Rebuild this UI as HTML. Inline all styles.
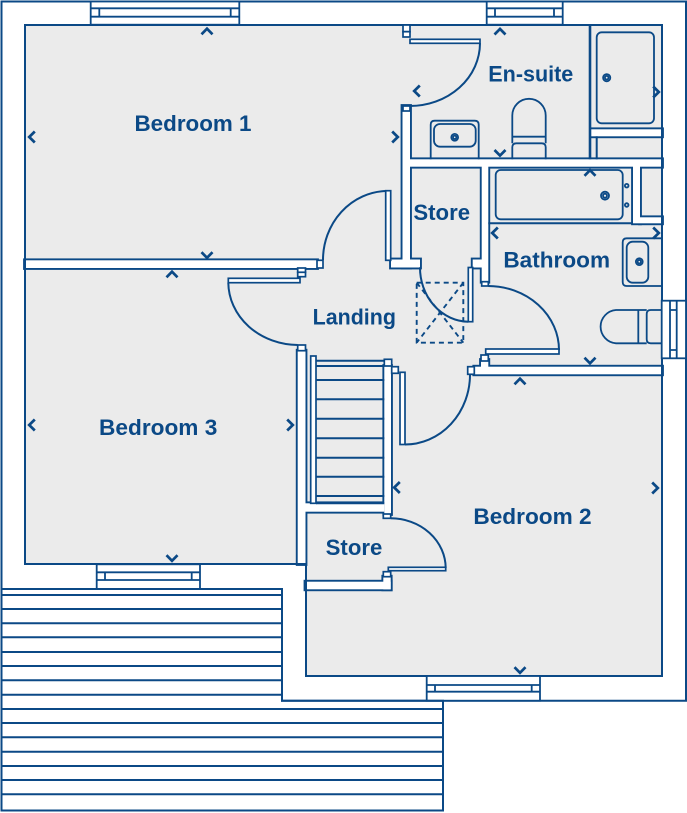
<!DOCTYPE html>
<html><head><meta charset="utf-8"><style>
html,body{margin:0;padding:0;background:#fff;}
svg{display:block;}
text{font-family:"Liberation Sans",sans-serif;font-weight:bold;font-size:22px;fill:#0b4986;text-anchor:middle;}
</style></head><body>
<svg width="687" height="813" viewBox="0 0 687 813" xmlns="http://www.w3.org/2000/svg">
<defs>
<g id="walls">
 <rect x="25" y="260.3" width="292" height="7.7"/>
 <rect x="402.5" y="106" width="7.5" height="161.5"/>
 <rect x="391" y="259.5" width="29" height="8"/>
 <rect x="410" y="159.3" width="252" height="7.4"/>
 <rect x="481.7" y="166" width="6.6" height="115.7"/>
 <rect x="472.7" y="259.5" width="9.3" height="8"/>
 <rect x="591" y="129.3" width="71" height="7"/>
 <rect x="633" y="166" width="7" height="57.3"/>
 <rect x="640" y="217.3" width="22" height="6"/>
 <rect x="474.3" y="366.7" width="187.7" height="7.6"/>
 <rect x="481" y="360" width="7.3" height="7.5"/>
 <rect x="384.3" y="366" width="6.7" height="148"/>
 <rect x="297.7" y="350.7" width="7.8" height="213.3"/>
 <rect x="305.5" y="503.3" width="78.8" height="8.4"/>
 <rect x="383.3" y="576.7" width="7.4" height="12.6"/>
 <rect x="305.5" y="581.7" width="85.2" height="7.6"/>
</g>
</defs>

<polygon points="25,25 662,25 662,676 306,676 306,564 25,564" fill="#ebebeb"/>

<use href="#walls" fill="none" stroke="#0b4986" stroke-width="3.8"/>
<use href="#walls" fill="#fff" stroke="none"/>

<g fill="none" stroke="#0b4986" stroke-width="2">
 <polygon points="25,25 662,25 662,676 306,676 306,564 25,564"/>
 <path d="M1.5,589 V1.5 H686 V700.7 H282 V589"/>
 <path d="M590,25 V159.3" stroke-width="2.6"/>
 <path d="M596.7,159.3 V136.3"/>
 <path d="M488.3,223.3 H633"/>
</g>

<g fill="#fff" stroke="#0b4986" stroke-width="1.7">
 <rect x="317" y="260.3" width="6" height="7.7"/>
 <rect x="297.7" y="268" width="7.8" height="4.3"/>
 <rect x="297.7" y="272.3" width="7.8" height="4.4"/>
 <rect x="297.7" y="345" width="7.8" height="5.7"/>
 <rect x="403" y="25" width="7" height="6.7"/>
 <rect x="403" y="31.7" width="7" height="5.3"/>
 <rect x="403" y="106" width="7" height="5"/>
 <rect x="481.7" y="281.7" width="6.6" height="4.3"/>
 <rect x="481" y="355" width="7.3" height="6"/>
 <rect x="467.7" y="366.7" width="6.6" height="7.6"/>
 <rect x="384.3" y="359.3" width="7.4" height="6.7"/>
 <rect x="391.7" y="366.7" width="6.6" height="6.6"/>
 <rect x="383.3" y="514" width="7.4" height="4.3"/>
 <rect x="383.3" y="571.7" width="7.4" height="5"/>
 <rect x="385.7" y="190.7" width="5" height="69.6"/>
 <rect x="410" y="39.3" width="70" height="4"/>
 <rect x="468.3" y="267.5" width="4.4" height="54.2"/>
 <rect x="485.7" y="349" width="73.3" height="5"/>
 <rect x="228.3" y="278.3" width="71.7" height="4.4"/>
 <rect x="400" y="372.3" width="5" height="72.2"/>
 <rect x="388.3" y="567.3" width="57.4" height="3.4"/>
 <rect x="310.7" y="356" width="5.3" height="147.3"/>
</g>

<g fill="none" stroke="#0b4986" stroke-width="2">
 <path d="M386,191 A65 69 0 0 0 323,260"/>
 <path d="M480,43.3 A70 63 0 0 1 410,106"/>
 <path d="M420,267.3 A49 54 0 0 0 468.3,321.7"/>
 <path d="M488.3,286 A71 64 0 0 1 559,350"/>
 <path d="M228.3,282.7 A70 63 0 0 0 297.7,345"/>
 <path d="M405,444.5 A65 70 0 0 0 470,374.3"/>
 <path d="M390.7,518.3 A55 50 0 0 1 445.7,568"/>
</g>

<g fill="none" stroke="#0b4986" stroke-width="1.9" stroke-dasharray="5 4">
 <rect x="416.7" y="282.7" width="46.6" height="60"/>
 <path d="M416.7,282.7 L463.3,342.7 M463.3,282.7 L416.7,342.7"/>
</g>

<g fill="none" stroke="#0b4986" stroke-width="2">
 <path d="M316,360.7 H384.3 M316,366 H384.3 M316,380 H384.3 M316,399.3 H384.3 M316,418.7 H384.3 M316,438.3 H384.3 M316,457.7 H384.3 M316,476.7 H384.3 M316,496 H384.3 M316,503.3 H384.3"/>
</g>

<g fill="none" stroke="#0b4986" stroke-width="1.8">
 <rect x="596.7" y="32.3" width="57.3" height="91" rx="5"/>
 <circle cx="606.7" cy="77.7" r="3.6"/><circle cx="606.7" cy="77.7" r="1.8"/>
 <path d="M430.7,159.3 V124.7 Q430.7,120.7 434.7,120.7 H474.7 Q478.7,120.7 478.7,124.7 V159.3"/>
 <rect x="434" y="124" width="41.7" height="22.7" rx="6"/>
 <circle cx="454.7" cy="137.3" r="3.4"/><circle cx="454.7" cy="137.3" r="1.7"/>
 <path d="M512.3,143.3 V115.5 A16.7 16.7 0 0 1 545.7,115.5 V143.3 M512.3,136.7 H545.7"/>
 <path d="M512.3,159.3 V147.3 Q512.3,143.3 516.3,143.3 H541.7 Q545.7,143.3 545.7,147.3 V159.3"/>
 <rect x="495.7" y="170" width="127" height="49.3" rx="5"/>
 <circle cx="605" cy="195.7" r="4"/><circle cx="605" cy="195.7" r="2"/>
 <circle cx="626.7" cy="185.7" r="1.8"/><circle cx="626.7" cy="205" r="1.8"/>
 <path d="M662,238.3 H626.7 Q622.7,238.3 622.7,242.3 V282 Q622.7,286 626.7,286 H662"/>
 <rect x="626.7" y="241.7" width="21.6" height="41" rx="6"/>
 <circle cx="639.3" cy="261.7" r="3.4"/><circle cx="639.3" cy="261.7" r="1.7"/>
 <path d="M646.7,310 H616 A16.7 16.7 0 0 0 616,343.3 H646.7 M638.3,310 V343.3"/>
 <path d="M662,310 H650.7 Q646.7,310 646.7,314 V339.3 Q646.7,343.3 650.7,343.3 H662"/>
</g>

<g fill="#fff" stroke="#0b4986" stroke-width="1.8">
 <rect x="90.7" y="1.5" width="148.6" height="23.2"/>
 <rect x="486.7" y="1.5" width="76" height="23.2"/>
 <rect x="96.7" y="564.3" width="103.3" height="24.7"/>
 <rect x="426.7" y="676" width="113.3" height="24.7"/>
 <rect x="661.7" y="300.7" width="24.3" height="57.6"/>
</g>
<g fill="none" stroke="#0b4986" stroke-width="1.8">
 <path d="M90.7,8.3 H239.3 M90.7,16.7 H239.3 M99.3,8.3 V16.7 M230.7,8.3 V16.7"/>
 <path d="M486.7,8.3 H562.7 M486.7,16.7 H562.7 M495,8.3 V16.7 M554,8.3 V16.7"/>
 <path d="M96.7,572.3 H200 M96.7,580 H200 M105,572.3 V580 M191.7,572.3 V580"/>
 <path d="M426.7,685 H540 M426.7,691.7 H540 M435,685 V691.7 M531.7,685 V691.7"/>
 <path d="M670,300.7 V358.3 M676.7,300.7 V358.3 M670,310 H676.7 M670,350 H676.7"/>
</g>

<g fill="none" stroke="#0b4986" stroke-width="2">
 <path d="M1.5,589 H282 V700.7 H443 V810.5 H1.5 Z"/>
 <path d="M1.5,595 H282 M1.5,609 H282 M1.5,623.3 H282 M1.5,637.3 H282 M1.5,652 H282 M1.5,666 H282 M1.5,680.3 H282 M1.5,694.7 H282"/>
 <path d="M1.5,709 H443 M1.5,723 H443 M1.5,737.3 H443 M1.5,751.7 H443 M1.5,766 H443 M1.5,780 H443 M1.5,794.3 H443"/>
</g>

<g fill="none" stroke="#0b4986" stroke-width="2.7" stroke-linejoin="miter">
 <path d="M201.5,34.3 L207,28.7 L212.5,34.3"/>
 <path d="M34.8,131.5 L29.2,137 L34.8,142.5"/>
 <path d="M392.2,131.5 L397.8,137 L392.2,142.5"/>
 <path d="M201.5,252.2 L207,257.8 L212.5,252.2"/>
 <path d="M166.5,277.3 L172,271.7 L177.5,277.3"/>
 <path d="M34.8,419.5 L29.2,425 L34.8,430.5"/>
 <path d="M287.2,419.5 L292.8,425 L287.2,430.5"/>
 <path d="M166.5,555.2 L172,560.8 L177.5,555.2"/>
 <path d="M514.5,384.3 L520,378.7 L525.5,384.3"/>
 <path d="M652.2,482.5 L657.8,488 L652.2,493.5"/>
 <path d="M514.5,667.2 L520,672.8 L525.5,667.2"/>
 <path d="M399.8,482 L394.2,487.5 L399.8,493"/>
 <path d="M584.5,175.8 L590,170.2 L595.5,175.8"/>
 <path d="M497.8,227.5 L492.2,233 L497.8,238.5"/>
 <path d="M653.2,227.5 L658.8,233 L653.2,238.5"/>
 <path d="M584.5,357.7 L590,363.3 L595.5,357.7"/>
 <path d="M494.5,34.5 L500,28.9 L505.5,34.5"/>
 <path d="M419.8,85.5 L414.2,91 L419.8,96.5"/>
 <path d="M653.2,86.5 L658.8,92 L653.2,97.5"/>
 <path d="M494.5,150 L500,155.6 L505.5,150"/>
</g>

<text x="193" y="131" textLength="117" lengthAdjust="spacingAndGlyphs">Bedroom 1</text>
<text x="530.8" y="81.7" textLength="85" lengthAdjust="spacingAndGlyphs">En-suite</text>
<text x="441.7" y="220" textLength="56.7" lengthAdjust="spacingAndGlyphs">Store</text>
<text x="556.7" y="267.3" textLength="106.7" lengthAdjust="spacingAndGlyphs">Bathroom</text>
<text x="354.3" y="324.3" textLength="83.3" lengthAdjust="spacingAndGlyphs">Landing</text>
<text x="158.2" y="435" textLength="118.3" lengthAdjust="spacingAndGlyphs">Bedroom 3</text>
<text x="354" y="555" textLength="56.7" lengthAdjust="spacingAndGlyphs">Store</text>
<text x="532.5" y="524" textLength="118.3" lengthAdjust="spacingAndGlyphs">Bedroom 2</text>
</svg>
</body></html>
